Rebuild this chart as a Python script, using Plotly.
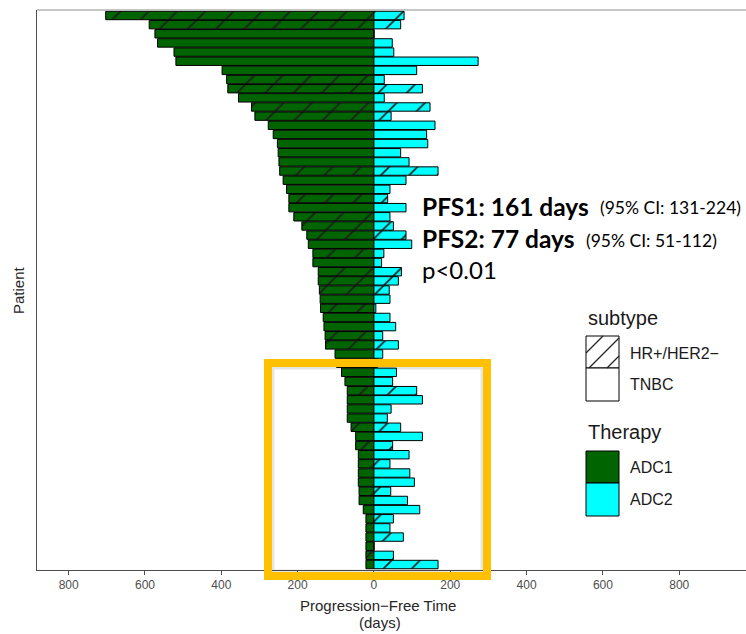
import plotly.graph_objects as go

# ---------------- data ----------------
patients = list(range(1, 62))
adc1_pfs = [703, 589, 574, 567, 524, 519, 398, 386, 383, 355,
            321, 312, 277, 264, 253, 251, 249, 247, 238, 229,
            223, 223, 210, 189, 176, 172, 160, 160, 146, 146,
            143, 141, 140, 133, 131, 128, 127, 102, 98, 85,
            76, 70, 70, 70, 70, 60, 48, 48, 41, 41,
            41, 41, 39, 39, 28, 21, 21, 21, 21, 21, 21]
adc2_pfs = [79, 70, 0, 48, 52, 273, 112, 27, 127, 27,
            147, 45, 160, 138, 141, 70, 92, 168, 84, 42,
            36, 84, 42, 51, 84, 99, 26, 20, 72, 64,
            40, 42, 5, 42, 57, 23, 64, 23, 10, 59,
            49, 112, 127, 45, 35, 70, 127, 49, 92, 42,
            94, 106, 44, 88, 120, 51, 42, 77, 0, 51, 168]
H, T_ = "HR+/HER2−", "TNBC"
subtype = [H, H, T_, T_, T_, T_, T_, H, H, T_,
           H, H, T_, T_, T_, T_, T_, H, T_, T_,
           H, T_, H, H, H, T_, H, T_, H, H,
           H, T_, H, T_, T_, H, H, T_, T_, T_,
           T_, H, T_, T_, T_, H, T_, H, T_, H,
           T_, T_, H, T_, T_, H, T_, H, T_, H, H]
x_tick_vals = [-800, -600, -400, -200, 0, 200, 400, 600, 800]
x_tick_text = ["800", "600", "400", "200", "0", "200", "400", "600", "800"]

# ---------------- layout helpers (pixel -> paper) ----------------
W, HGT = 746, 634
L, R, TOP, BOT = 37, 746, 10, 570


def px(x):
    return (x - L) / (R - L)


def py(y):
    return (BOT - y) / (BOT - TOP)


GREEN = "#006400"
CYAN = "#00FFFF"
n = len(patients)
ypos = [n + 1 - p for p in patients]
shapes_pat = ["/" if s == H else "" for s in subtype]

fig = go.Figure()
fig.add_trace(go.Bar(
    y=ypos, x=[-v for v in adc1_pfs], orientation="h", name="ADC1",
    marker=dict(color=GREEN, line=dict(color="black", width=1),
                pattern=dict(shape=shapes_pat, fgcolor="#1e1e1e", bgcolor=GREEN,
                             size=20, solidity=0.08, fillmode="replace")),
    showlegend=False, hoverinfo="skip"))
fig.add_trace(go.Bar(
    y=ypos, x=adc2_pfs, orientation="h", name="ADC2",
    marker=dict(color=CYAN, line=dict(color="black", width=1),
                pattern=dict(shape=shapes_pat, fgcolor="#1e1e1e", bgcolor=CYAN,
                             size=20, solidity=0.08, fillmode="replace")),
    showlegend=False, hoverinfo="skip"))

shapes = []
# top grey border
shapes.append(dict(type="line", xref="paper", yref="paper", x0=0, x1=1, y0=1, y1=1,
                   line=dict(color="#b5b5b5", width=1.5)))
# soft shadow + orange highlight box
shapes.append(dict(type="rect", xref="paper", yref="paper",
                   x0=px(273), x1=px(482), y0=py(571), y1=py(368),
                   line=dict(color="rgba(0,0,0,0.10)", width=3), fillcolor="rgba(0,0,0,0)"))
shapes.append(dict(type="rect", xref="paper", yref="paper",
                   x0=px(268), x1=px(487), y0=py(576), y1=py(363),
                   line=dict(color="#FFC000", width=8), fillcolor="rgba(0,0,0,0)"))

# legend keys
kx0, kx1 = 586, 619
shapes.append(dict(type="rect", xref="paper", yref="paper", x0=px(kx0), x1=px(kx1),
                   y0=py(368), y1=py(336), line=dict(color="black", width=1), fillcolor="white"))
shapes.append(dict(type="rect", xref="paper", yref="paper", x0=px(kx0), x1=px(kx1),
                   y0=py(401), y1=py(368), line=dict(color="black", width=1), fillcolor="white"))
# hatch lines in HR+ key
ktop, kbot = 336, 368
for xb in [571, 589, 607]:
    h = kbot - ktop
    xa, ya = xb, kbot
    xe, ye = xb + h, ktop
    if xa < kx0:
        ya = kbot - (kx0 - xa)
        xa = kx0
    if xe > kx1:
        ye = ktop + (xe - kx1)
        xe = kx1
    shapes.append(dict(type="line", xref="paper", yref="paper", x0=px(xa), y0=py(ya),
                       x1=px(xe), y1=py(ye), line=dict(color="#222", width=1.2)))
shapes.append(dict(type="rect", xref="paper", yref="paper", x0=px(kx0), x1=px(kx1),
                   y0=py(483), y1=py(451), line=dict(color="black", width=1), fillcolor=GREEN))
shapes.append(dict(type="rect", xref="paper", yref="paper", x0=px(kx0), x1=px(kx1),
                   y0=py(516), y1=py(483), line=dict(color="black", width=1), fillcolor=CYAN))

SANS = "Liberation Sans, Arial, sans-serif"
CAL = "Lato, sans-serif"
ann = []


def text(x, y, s, size, color="#1a1a1a", family=SANS, xanchor="left", angle=0):
    ann.append(dict(x=px(x), y=py(y), xref="paper", yref="paper", text=s, showarrow=False,
                    xanchor=xanchor, yanchor="middle", textangle=angle,
                    font=dict(size=size, color=color, family=family)))


text(586, 318, "subtype", 20)
text(628, 353, "HR+/HER2−", 16)
text(628, 384, "TNBC", 16)
text(586, 432, "Therapy", 20)
text(628, 467, "ADC1", 16)
text(628, 499, "ADC2", 16)

text(420, 206, "<b>PFS1: 161 days</b>", 24.5, color="black", family=CAL)
text(743, 208, "(95% CI: 131-224)", 17.5, color="black", family=CAL, xanchor="right")
text(420, 238, "<b>PFS2: 77 days</b>", 24.5, color="black", family=CAL)
text(719, 240, "(95% CI: 51-112)", 17.5, color="black", family=CAL, xanchor="right")
text(420, 269, "p<0.01", 24, color="black", family=CAL)

text(378, 605, "Progression−Free Time", 15, color="#262626", xanchor="center")
text(380, 622, "(days)", 15, color="#262626", xanchor="center")
text(18, 290, "Patient", 15, color="#262626", xanchor="center", angle=-90)

fig.update_layout(
    width=W, height=HGT,
    margin=dict(l=L, r=W - R, t=TOP, b=HGT - BOT),
    paper_bgcolor="white", plot_bgcolor="white",
    barmode="overlay", bargap=0.08,
    shapes=shapes, annotations=ann,
    xaxis=dict(range=[-883, 975], tickvals=x_tick_vals, ticktext=x_tick_text,
               ticks="outside", ticklen=4, tickcolor="#4d4d4d", tickwidth=1,
               showline=True, linecolor="#4d4d4d", linewidth=1,
               showgrid=False, zeroline=False,
               tickfont=dict(family=SANS, size=12, color="#4d4d4d")),
    yaxis=dict(range=[0.4, n + 0.6], showticklabels=False, ticks="",
               showline=True, linecolor="#4d4d4d", linewidth=1,
               showgrid=False, zeroline=False),
    showlegend=False,
)

fig.write_html("out.html", config={"displayModeBar": False})

# remove the browser's default 8px body margin so the figure sits at the page origin
with open("out.html", encoding="utf-8") as f:
    html = f.read()
html = html.replace("</head>", "<style>html,body{margin:0;padding:0;}</style></head>", 1)
with open("out.html", "w", encoding="utf-8") as f:
    f.write(html)
